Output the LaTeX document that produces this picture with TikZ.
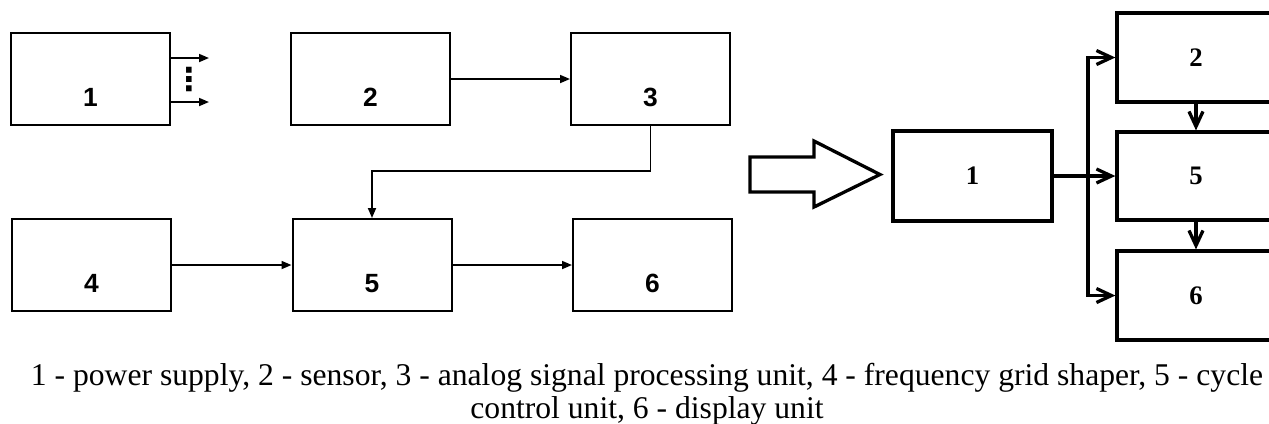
\documentclass[tikz,border=0pt]{standalone}
\usepackage{fontspec}
\setmainfont{Liberation Serif}
\newfontfamily\labsans{Liberation Sans}
\newfontfamily\symfont{DejaVu Sans}
\usetikzlibrary{arrows.meta,positioning}

\begin{document}
\begin{tikzpicture}[
  blk/.style={rectangle, draw, line width=0.2mm, minimum width=15.9mm,
    minimum height=9.2mm, inner sep=0pt, text height=5.5mm, text depth=0pt,
    font=\labsans\bfseries\fontsize{7.5}{8}\selectfont},
  rblk/.style={rectangle, draw, line width=0.33mm, minimum width=15.8mm,
    minimum height=8.9mm, inner sep=0pt,
    font=\bfseries\fontsize{7.6}{8}\selectfont},
  lnk/.style={line width=0.17mm, -{Triangle[length=1mm,width=0.8mm]}},
  rlnk/.style={line width=0.33mm, line join=miter,
    -{Straight Barb[length=1.5mm,width=1.4mm]}}
]
  \useasboundingbox (0,0) rectangle (12.69,-4.23);
  \clip (0,0) rectangle (12.69,-4.23);

  % Left scheme: two rows of blocks
  \node[blk] (n1) at (0.905,-0.79) {1};
  \node[blk] (n2) at (3.705,-0.79) {2};
  \node[blk] (n3) at (6.505,-0.79) {3};
  \node[blk] (n4) at (0.915,-2.65) {4};
  \node[blk] (n5) at (3.72,-2.65) {5};
  \node[blk] (n6) at (6.525,-2.65) {6};

  % outputs of the power supply
  \coordinate (o1) at (2.09,-0.58);
  \coordinate (o2) at (2.09,-1.02);
  \draw[lnk] (n1.east |- o1) -- (o1);
  \draw[lnk] (n1.east |- o2) -- (o2);
  \node[inner sep=0pt, font=\symfont\bfseries\fontsize{9}{9}\selectfont]
    (dots) at (1.89,-0.795) {⋮};

  \draw[lnk] (n2) -- (n3);
  \draw[lnk] (n3.south) -- ++(0,-0.45) -| (n5.north);
  \draw[lnk] (n4) -- (n5);
  \draw[lnk] (n5) -- (n6);

  % Right scheme: hollow input arrow
  \draw[line width=0.33mm, line join=miter] (7.5,-1.57) -- (8.14,-1.57)
    -- (8.14,-1.41) -- (8.80,-1.745) -- (8.14,-2.07) -- (8.14,-1.92)
    -- (7.5,-1.92) -- cycle;

  \node[rblk, minimum width=15.9mm, minimum height=9mm] (m1) at (9.725,-1.76) {1};
  \node[rblk] (m2) at (11.96,-0.575) {2};
  \node[rblk, minimum height=8.8mm] (m5) at (11.96,-1.76) {5};
  \node[rblk] (m6) at (11.96,-2.955) {6};

  % Branching from block 1
  \coordinate (jn) at (10.88,-1.76);
  \draw[line width=0.33mm] (m1) -- (jn);
  \draw[rlnk] (jn) |- (m2);
  \draw[rlnk] (jn) -- (m5);
  \draw[rlnk] (jn) |- (m6);
  \draw[rlnk] (m2) -- (m5);
  \draw[rlnk] (m5) -- (m6);

  % Caption
  \node[font=\fontsize{9}{9.15}\selectfont, align=center, inner sep=0pt,
    anchor=north] (cap) at (6.47,-3.63)
    {1 - power supply, 2 - sensor, 3 - analog signal processing unit, 4 - frequency grid shaper, 5 - cycle\\
     control unit, 6 - display unit};
\end{tikzpicture}
\end{document}
